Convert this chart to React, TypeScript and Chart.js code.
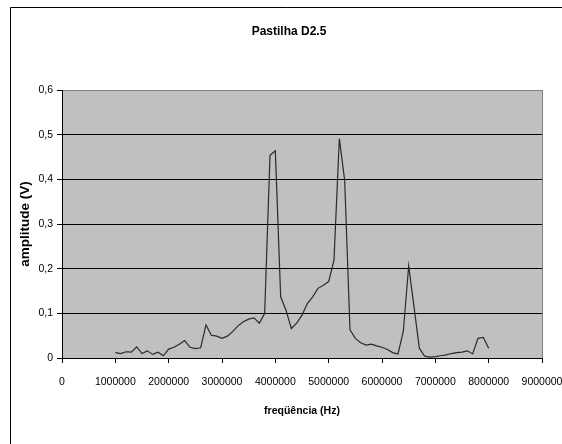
import React, { useEffect, useRef } from 'react';
import { Chart, registerables } from 'chart.js';

Chart.register(...registerables);

const chartTitle = 'Pastilha D2.5';
const xAxisTitle = 'freqüência (Hz)';
const yAxisTitle = 'amplitude (V)';

const frequencies = [
  1000000, 1100000, 1200000, 1300000, 1400000, 1500000, 1600000, 1700000, 1800000, 1900000,
  2000000, 2100000, 2200000, 2300000, 2400000, 2500000, 2600000, 2700000, 2800000, 2900000,
  3000000, 3100000, 3200000, 3300000, 3400000, 3500000, 3600000, 3700000, 3800000, 3900000,
  4000000, 4100000, 4200000, 4300000, 4400000, 4500000, 4600000, 4700000, 4800000, 4900000,
  5000000, 5100000, 5200000, 5300000, 5400000, 5500000, 5600000, 5700000, 5800000, 5900000,
  6000000, 6100000, 6200000, 6300000, 6400000, 6500000, 6600000, 6700000, 6800000, 6900000,
  7000000, 7100000, 7200000, 7300000, 7400000, 7500000, 7600000, 7700000, 7800000, 7900000,
  8000000,
];

const amplitudes = [
  0.012, 0.010, 0.014, 0.013, 0.025, 0.010, 0.016, 0.008, 0.013, 0.005,
  0.020, 0.024, 0.031, 0.039, 0.024, 0.021, 0.023, 0.074, 0.051, 0.049,
  0.044, 0.049, 0.059, 0.072, 0.081, 0.087, 0.090, 0.078, 0.100, 0.454,
  0.464, 0.137, 0.107, 0.066, 0.078, 0.096, 0.122, 0.137, 0.156, 0.163,
  0.171, 0.219, 0.491, 0.398, 0.063, 0.044, 0.034, 0.029, 0.031, 0.027,
  0.024, 0.019, 0.012, 0.009, 0.060, 0.206, 0.115, 0.022, 0.004, 0.002,
  0.003, 0.005, 0.007, 0.010, 0.012, 0.013, 0.016, 0.009, 0.044, 0.046,
  0.022,
];

const xTickLabels = ['0', '1000000', '2000000', '3000000', '4000000', '5000000', '6000000', '7000000', '8000000', '9000000'];
const yTickLabels = ['0', '0,1', '0,2', '0,3', '0,4', '0,5', '0,6'];

const sans = "'Liberation Sans', Arial, sans-serif";

const framePlugin = {
  id: 'frameAndBg',
  afterLayout(chart: any) {
    const tb = chart.titleBlock;
    if (tb) {
      const w = tb.right - tb.left;
      tb.left = 289 - w / 2;
      tb.right = 289 + w / 2;
    }
  },
  beforeDraw(chart: any) {
    const { ctx, chartArea, width, height } = chart;
    ctx.save();
    ctx.fillStyle = '#ffffff';
    ctx.fillRect(0, 0, width, height);
    ctx.strokeStyle = '#000000';
    ctx.lineWidth = 1;
    ctx.beginPath();
    ctx.moveTo(10.5, height);
    ctx.lineTo(10.5, 7.5);
    ctx.lineTo(width, 7.5);
    ctx.stroke();
    ctx.fillStyle = '#c0c0c0';
    ctx.fillRect(chartArea.left, chartArea.top, chartArea.right - chartArea.left, chartArea.bottom - chartArea.top);
    ctx.restore();
  },
};

export default function App() {
  const canvasRef = useRef<HTMLCanvasElement | null>(null);

  useEffect(() => {
    document.body.style.margin = '0';
    const canvas = canvasRef.current;
    if (!canvas) return;
    const chart = new Chart(canvas, {
      type: 'line',
      data: {
        datasets: [
          {
            label: 'amplitude',
            data: frequencies.map((f, i) => ({ x: f, y: amplitudes[i] })),
            borderColor: '#2a2a2a',
            borderWidth: 1.2,
            pointRadius: 0,
            tension: 0,
            fill: false,
          },
        ],
      },
      options: {
        responsive: false,
        animation: false,
        devicePixelRatio: 1,
        layout: { padding: { left: 12, right: 20, top: 0, bottom: 0 } },
        plugins: {
          legend: { display: false },
          tooltip: { enabled: false },
          title: {
            display: true,
            text: chartTitle,
            color: '#000000',
            font: { family: sans, size: 12, weight: 'bold' },
            padding: { top: 24, bottom: 51.6 },
          },
        },
        scales: {
          x: {
            type: 'linear',
            min: 0,
            max: 9000000,
            afterFit(scale: any) {
              scale.height = 86;
              scale.paddingLeft = 0;
              scale.paddingRight = 0;
            },
            ticks: {
              stepSize: 1000000,
              autoSkip: false,
              maxRotation: 0,
              minRotation: 0,
              padding: 13,
              color: '#000000',
              font: { family: sans, size: 10.5 },
              callback: (value: any, index: number) => xTickLabels[index] ?? String(value),
            },
            grid: {
              drawOnChartArea: true,
              drawTicks: true,
              tickLength: 5,
              tickColor: '#000000',
              color: (ctx: any) => (ctx.tick && ctx.tick.value === 9000000 ? '#808080' : 'rgba(0,0,0,0)'),
              lineWidth: 1,
            },
            border: { display: true, color: '#000000', width: 1 },
            title: {
              display: true,
              text: xAxisTitle,
              color: '#000000',
              font: { family: sans, size: 10.5, weight: 'bold' },
              padding: { top: 0, bottom: 27 },
            },
          },
          y: {
            type: 'linear',
            min: 0,
            max: 0.6,
            afterFit(scale: any) {
              scale.width = 50;
            },
            ticks: {
              stepSize: 0.1,
              padding: 4,
              color: '#000000',
              font: { family: sans, size: 10.5 },
              callback: (value: any, index: number) => yTickLabels[index] ?? String(value),
            },
            grid: {
              drawTicks: true,
              tickLength: 5,
              tickColor: '#000000',
              color: (ctx: any) => (ctx.tick && Math.abs(ctx.tick.value - 0.6) < 1e-9 ? '#808080' : '#000000'),
              lineWidth: 1,
            },
            border: { display: true, color: '#000000', width: 1 },
            title: {
              display: true,
              text: yAxisTitle,
              color: '#000000',
              font: { family: sans, size: 13.5, weight: 'bold' },
              padding: { top: 5, bottom: 0 },
            },
          },
        },
      },
      plugins: [framePlugin],
    } as any);
    return () => chart.destroy();
  }, []);

  return (
    <div style={{ width: 562, height: 444, position: 'relative' }}>
      <canvas ref={canvasRef} width={562} height={444} style={{ display: 'block' }} />
    </div>
  );
}
